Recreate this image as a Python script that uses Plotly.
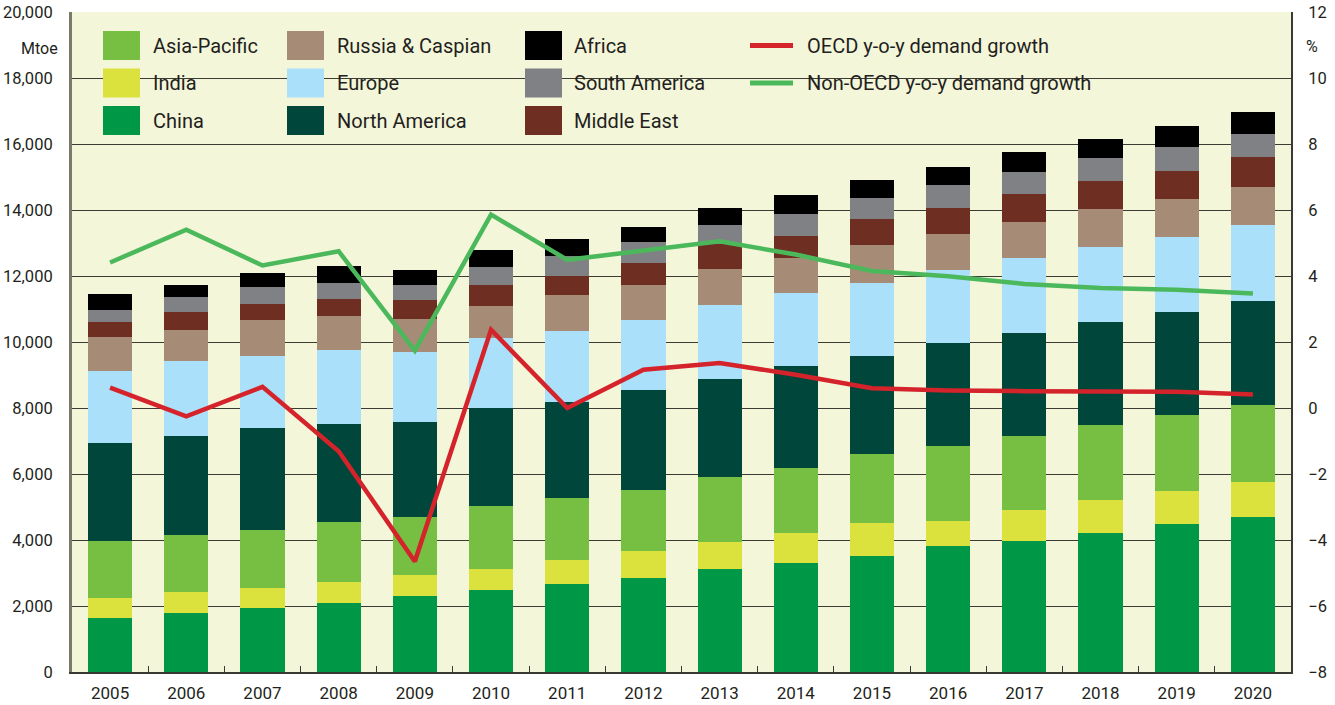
import plotly.graph_objects as go

years = [str(y) for y in range(2005, 2021)]

china = [1650, 1800, 1950, 2080, 2290, 2470, 2680, 2860, 3110, 3290, 3520, 3810, 3980, 4220, 4470, 4710]
india = [580, 610, 605, 640, 640, 640, 700, 820, 820, 910, 990, 780, 940, 980, 1000, 1035]
asia_pacific = [1725, 1730, 1760, 1820, 1760, 1910, 1880, 1850, 1970, 1970, 2090, 2260, 2220, 2280, 2310, 2340]
north_america = [2970, 3000, 3090, 2970, 2880, 2970, 2910, 3030, 2970, 3090, 2980, 3130, 3130, 3130, 3130, 3160]
europe = [2210, 2270, 2180, 2240, 2120, 2120, 2150, 2120, 2240, 2240, 2210, 2210, 2280, 2280, 2260, 2310]
russia_caspian = [1030, 940, 1090, 1030, 1000, 970, 1090, 1060, 1090, 1060, 1160, 1090, 1090, 1130, 1150, 1150]
middle_east = [450, 545, 490, 515, 575, 640, 605, 665, 760, 665, 780, 790, 860, 850, 850, 905]
south_america = [365, 455, 515, 485, 455, 545, 605, 635, 575, 665, 640, 675, 665, 695, 730, 700]
africa = [485, 365, 425, 515, 455, 515, 515, 455, 515, 575, 545, 570, 580, 580, 640, 675]

oecd_growth = [0.62, -0.25, 0.64, -1.31, -4.65, 2.37, 0.0, 1.16, 1.36, 1.01, 0.6, 0.53, 0.51, 0.5, 0.49, 0.41]
non_oecd_growth = [4.41, 5.4, 4.32, 4.75, 1.74, 5.86, 4.49, 4.78, 5.05, 4.65, 4.15, 3.99, 3.76, 3.64, 3.58, 3.47]

left_ticks = [0, 2000, 4000, 6000, 8000, 10000, 12000, 14000, 16000, 18000, 20000]
right_ticks = [-8, -6, -4, -2, 0, 2, 4, 6, 8, 10, 12]

bar_series = [
    ("China", china, "#009846"),
    ("India", india, "#dce23d"),
    ("Asia-Pacific", asia_pacific, "#76bf43"),
    ("North America", north_america, "#00463a"),
    ("Europe", europe, "#aae0fa"),
    ("Russia & Caspian", russia_caspian, "#a68c76"),
    ("Middle East", middle_east, "#6e2f22"),
    ("South America", south_america, "#808184"),
    ("Africa", africa, "#000000"),
]
line_series = [
    ("OECD y-o-y demand growth", oecd_growth, "#d4232b"),
    ("Non-OECD y-o-y demand growth", non_oecd_growth, "#4cb85c"),
]

BG = "#f4f6da"
TXT = "#231f20"
FONT = "Roboto"

fig = go.Figure()
for name, vals, col in bar_series:
    fig.add_trace(go.Bar(x=years, y=vals, name=name, marker=dict(color=col, line=dict(width=0)),
                         width=0.58, showlegend=False))
for name, vals, col in line_series:
    fig.add_trace(go.Scatter(x=years, y=vals, name=name, yaxis="y2", mode="lines",
                             line=dict(color=col, width=4.5), showlegend=False))

# layout geometry (pixels)
W, H = 1335, 705
L, R, T, B = 72, 1291, 12, 672
PW, PH = R - L, B - T


def px(x):
    return (x - L) / PW


def py(y):
    return (B - y) / PH


shapes = []
annotations = []
# legend background covering gridline
shapes.append(dict(type="rect", xref="paper", yref="paper", x0=px(90), x1=px(1125), y0=py(142), y1=py(20),
                   fillcolor=BG, line=dict(width=0), layer="between"))

legend_cols = [
    (103, 151, ["Asia-Pacific", "India", "China"]),
    (287, 335, ["Russia & Caspian", "Europe", "North America"]),
    (525, 572, ["Africa", "South America", "Middle East"]),
]
row_y = [45.5, 83, 120.5]
color_of = {n: c for n, _, c in bar_series}
for sx, tx, names in legend_cols:
    for ry, n in zip(row_y, names):
        shapes.append(dict(type="rect", xref="paper", yref="paper", x0=px(sx), x1=px(sx + 37),
                           y0=py(ry + 14.5), y1=py(ry - 14.5), fillcolor=color_of[n],
                           line=dict(width=0), layer="above"))
        annotations.append(dict(text=n, xref="paper", yref="paper", x=px(tx), y=py(ry), xanchor="left",
                                yanchor="middle", showarrow=False, font=dict(family=FONT, size=20, color=TXT)))
for ry, (n, _, c) in zip(row_y, line_series):
    shapes.append(dict(type="line", xref="paper", yref="paper", x0=px(750), x1=px(793), y0=py(ry), y1=py(ry),
                       line=dict(color=c, width=5), layer="above"))
    annotations.append(dict(text=n, xref="paper", yref="paper", x=px(805), y=py(ry), xanchor="left",
                            yanchor="middle", showarrow=False, font=dict(family=FONT, size=20, color=TXT)))

annotations.append(dict(text="Mtoe", xref="paper", yref="paper", x=px(60), y=py(48), xanchor="right",
                        yanchor="middle", showarrow=False, font=dict(family=FONT, size=16, color=TXT)))
annotations.append(dict(text="%", xref="paper", yref="paper", x=px(1304), y=py(47), xanchor="left",
                        yanchor="middle", showarrow=False, font=dict(family=FONT, size=16, color=TXT)))

fig.update_layout(
    template="none",
    width=W, height=H, autosize=False,
    margin=dict(l=L, r=W - R, t=T, b=H - B, pad=0, autoexpand=False),
    paper_bgcolor="white", plot_bgcolor=BG,
    barmode="stack", bargap=0.42,
    font=dict(family=FONT, size=16, color=TXT),
    xaxis=dict(type="category", range=[-0.5, 15.5], showline=True, linecolor="#3a3a35", linewidth=2,
               ticks="inside", tickson="boundaries", ticklen=6, tickcolor="#3a3a35", automargin=False,
               showgrid=False, tickfont=dict(size=17), ticklabelstandoff=5),
    yaxis=dict(range=[0, 20000], tickvals=left_ticks, ticktext=[f"{v:,}" for v in left_ticks],
               showline=True, linecolor="#7a7a6a", linewidth=3, showgrid=True, gridcolor="#3c3c34",
               gridwidth=1.3, ticks="", zeroline=False, tickfont=dict(size=16.5), ticklabelstandoff=13,
               automargin=False),
    yaxis2=dict(range=[-8, 12], tickvals=right_ticks, overlaying="y", side="right", showline=True,
                linecolor="#3a3a35", linewidth=2, showgrid=False, zeroline=False, ticks="",
                tickfont=dict(size=16.5), ticklabelstandoff=12, automargin=False),
    shapes=shapes, annotations=annotations,
)

fig.write_html("out.html", config={"displayModeBar": False},
               post_script="document.body.style.margin='0px';")
